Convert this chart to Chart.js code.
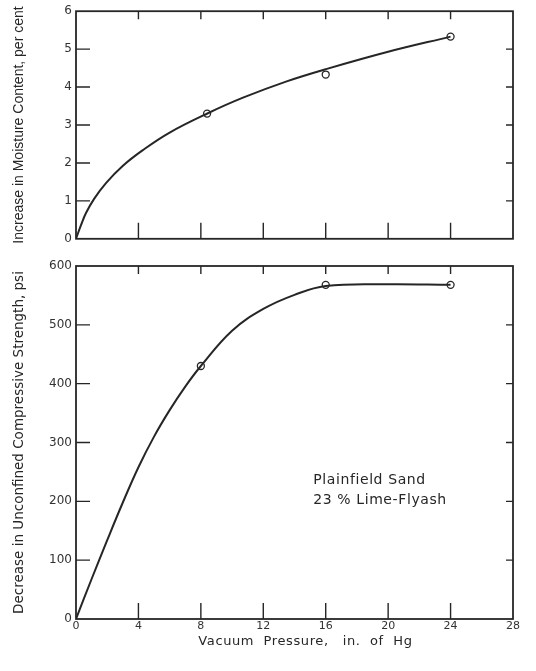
<!DOCTYPE html>
<html><head><meta charset="utf-8">
<script src="https://cdn.jsdelivr.net/npm/chart.js@4"></script>
<style>
html,body{margin:0;padding:0;background:#fff;}
#wrap{position:relative;width:536px;height:671px;overflow:hidden;}
.box{position:absolute;left:0;width:536px;}
</style></head><body>
<div id="wrap">
<div class="box" style="top:0;height:250px"><canvas id="c1"></canvas></div>
<div class="box" style="top:250px;height:421px"><canvas id="c2"></canvas></div>
</div>
<script>
// ---- data ----
const xTickStep = 4;
const xMin = 0, xMax = 28;
const moistureX = [8.4, 16, 24];
const moistureY = [3.3, 4.33, 5.33];
const moistureCurveX = [0, 0.32, 0.64, 1.17, 1.92, 2.99, 4.26, 6.0, 8.45, 10.7, 13.5, 16, 20, 24];
const moistureCurveY = [0, 0.36, 0.68, 1.06, 1.47, 1.92, 2.33, 2.80, 3.31, 3.72, 4.15, 4.47, 4.93, 5.33];
const strengthX = [8, 16, 24];
const strengthY = [430, 568, 568];
const strengthCurveX = [0, 1, 2, 3, 4, 5, 6, 7, 8, 10, 12, 14, 16, 20, 24];
const strengthCurveY = [0, 68, 134, 198, 258, 310, 355, 395, 430, 490, 527, 551, 566, 569, 568];
const xTitle = 'Vacuum  Pressure,   in.  of  Hg';
const noteLines = ['Plainfield Sand', '23 % Lime-Flyash'];
const noteAt = {x: 15.2, y: 236};

const INK = '#262626';
const pts = (xs, ys) => xs.map((x, i) => ({x, y: ys[i]}));

const frame = {
  id: 'frame',
  afterDraw(chart, args, o) {
    const {ctx, chartArea: a, scales: {x, y}} = chart;
    ctx.save();
    ctx.strokeStyle = INK;
    ctx.lineWidth = 1.8;
    ctx.strokeRect(a.left, a.top, a.right - a.left, a.bottom - a.top);
    ctx.lineWidth = 1.4;
    ctx.beginPath();
    x.ticks.forEach(t => {
      if (t.value <= x.min || t.value >= x.max) return;
      const px = x.getPixelForValue(t.value);
      ctx.moveTo(px, a.bottom); ctx.lineTo(px, a.bottom - o.bottomLen);
      ctx.moveTo(px, a.top); ctx.lineTo(px, a.top + o.topLen);
    });
    y.ticks.forEach(t => {
      if (t.value <= y.min || t.value >= y.max) return;
      const py = y.getPixelForValue(t.value);
      ctx.moveTo(a.left, py); ctx.lineTo(a.left + o.leftLen, py);
      ctx.moveTo(a.right, py); ctx.lineTo(a.right - o.rightLen, py);
    });
    ctx.stroke();
    ctx.fillStyle = INK;
    if (o.note) {
      ctx.font = '14px "DejaVu Sans"';
      ctx.letterSpacing = '0.6px';
      ctx.textAlign = 'left';
      ctx.textBaseline = 'middle';
      const nx = x.getPixelForValue(o.note.x);
      const ny = y.getPixelForValue(o.note.y);
      o.note.lines.forEach((l, i) => ctx.fillText(l, nx, ny + i * 20));
    }
    if (o.xTitle) {
      ctx.font = '13px "DejaVu Sans"';
      ctx.letterSpacing = '0.6px';
      ctx.textAlign = 'center';
      ctx.textBaseline = 'middle';
      ctx.fillText(o.xTitle, x.getPixelForValue(14.7), a.bottom + 23);
    }
    ctx.restore();
  }
};

function makeChart(id, cfg) {
  return new Chart(document.getElementById(id), {
    type: 'scatter',
    data: {
      datasets: [
        {data: pts(cfg.cx, cfg.cy), showLine: true, borderColor: INK, borderWidth: 2,
         pointRadius: 0, tension: 0.4, fill: false},
        {data: pts(cfg.px, cfg.py), showLine: false, pointRadius: 3.5, pointBorderWidth: 1.3,
         pointBorderColor: INK, pointBackgroundColor: '#fff'}
      ]
    },
    options: {
      responsive: true, maintainAspectRatio: false, animation: false,
      layout: {padding: {top: cfg.padTop, right: 23, left: 0, bottom: 0}},
      plugins: {legend: {display: false}, tooltip: {enabled: false},
        frame: {topLen: 8, bottomLen: 16, leftLen: 14, rightLen: 7, note: cfg.note,
          xTitle: cfg.showX ? xTitle : null}},
      scales: {
        x: {type: 'linear', min: xMin, max: xMax,
          ticks: {display: cfg.showX, stepSize: xTickStep, padding: 1, color: '#333',
            font: {family: '"DejaVu Sans"', size: 11}},
          grid: {display: false, drawTicks: false}, border: {display: false},
          afterFit: s => { s.height = cfg.xH; }},
        y: {type: 'linear', min: 0, max: cfg.yMax,
          ticks: {stepSize: cfg.yStep, padding: 4, color: '#333',
            font: {family: '"DejaVu Sans"', size: 12}},
          grid: {display: false, drawTicks: false}, border: {display: false},
          title: {display: true, text: cfg.yTitle, color: INK,
            font: {family: cfg.yFont, size: cfg.yTitleSize}, padding: {top: 11, bottom: 0}},
          afterFit: s => { s.width = 76; }}
      }
    },
    plugins: [frame]
  });
}

makeChart('c1', {cx: moistureCurveX, cy: moistureCurveY, px: moistureX, py: moistureY,
  padTop: 7, xH: 9, showX: false, yMax: 6, yStep: 1,
  yTitle: 'Increase in Moisture Content, per cent', yFont: '"Liberation Sans"', yTitleSize: 14,
  note: null});
makeChart('c2', {cx: strengthCurveX, cy: strengthCurveY, px: strengthX, py: strengthY,
  padTop: 16, xH: 52, showX: true, yMax: 600, yStep: 100,
  yTitle: 'Decrease in Unconfined Compressive Strength, psi', yFont: '"DejaVu Sans"', yTitleSize: 13.5,
  note: {x: noteAt.x, y: noteAt.y, lines: noteLines}});
</script>
</body></html>
